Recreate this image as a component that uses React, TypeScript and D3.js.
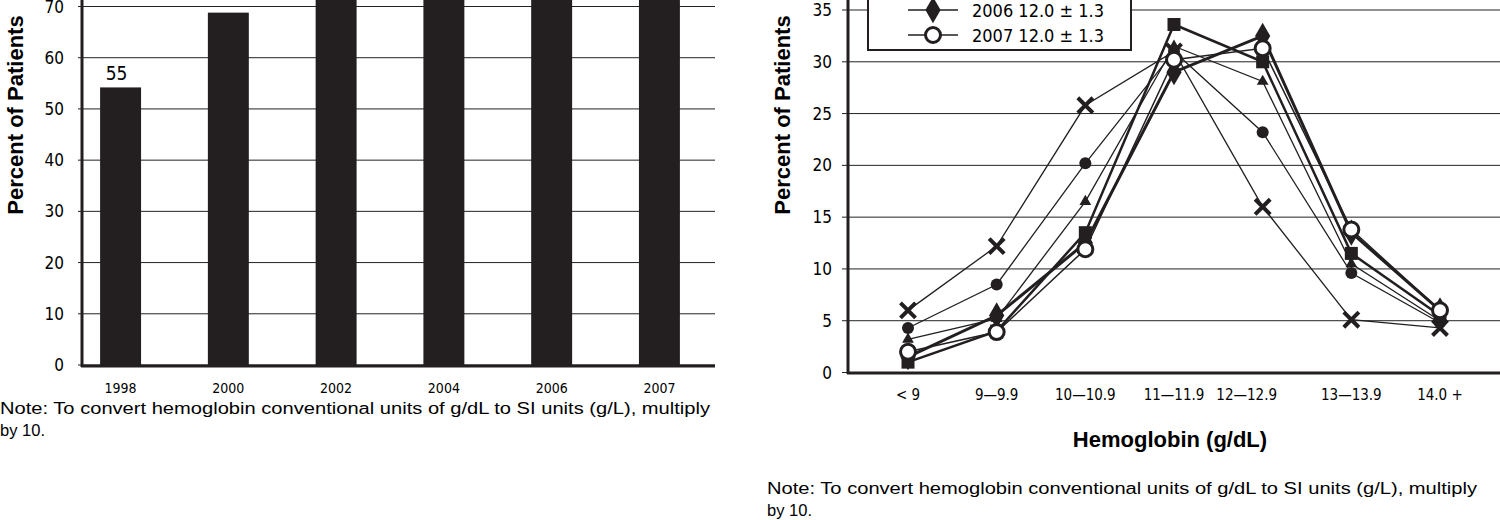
import React, { useEffect, useRef } from "react";
import * as d3 from "d3";

const years = ["1998", "2000", "2002", "2004", "2006", "2007"];
const barValues = [54.2, 68.8, 80, 84, 87, 89];
const barLabels = ["55", "", "", "", "", ""];
const barTicks = [0, 10, 20, 30, 40, 50, 60, 70];

const hbCats = ["< 9", "9\u20149.9", "10\u201410.9", "11\u201411.9", "12\u201412.9", "13\u201413.9", "14.0 +"];
const lineTicks = [0, 5, 10, 15, 20, 25, 30, 35];
const s1998 = [6, 12.2, 25.8, 31, 16, 5.1, 4.3];
const s2000 = [4.3, 8.5, 20.2, 31, 23.2, 9.6, 4.8];
const s2002 = [3.2, 5.2, 16.5, 31.5, 28.1, 10.5, 5];
const s2004 = [1, 4, 13.5, 33.6, 30, 11.5, 5.5];
const s2006 = [1.5, 5.5, 12.5, 29, 32.5, 13.5, 6];
const s2007 = [2, 3.9, 11.9, 30.2, 31.3, 13.8, 6];
const legendRows = [
  { label: "2006  12.0 \u00b1 1.3", marker: "diamond" },
  { label: "2007  12.0 \u00b1 1.3", marker: "open" },
];
const noteLine1 = "Note:  To convert hemoglobin conventional units of g/dL to SI units (g/L), multiply";
const noteLine2 = "by 10.";

const narrow = "'Liberation Sans Narrow', 'DejaVu Sans Condensed', Arial, sans-serif";
const sans = "'Liberation Sans', Arial, sans-serif";

const App: React.FC = () => {
  const ref = useRef<SVGSVGElement | null>(null);

  useEffect(() => {
    if (!ref.current) return;
    const svg = d3.select(ref.current);
    svg.selectAll("*").remove();

    // ---- bar chart
    const bx = d3.scaleBand().domain(years).range([57, 723]).paddingInner(0.62).paddingOuter(0.4);
    const by = d3.scaleLinear().domain([0, 70]).range([365, 6.5]);
    const g1 = svg.append("g");
    barTicks.forEach((t) => {
      g1.append("line").attr("x1", 78).attr("x2", 715).attr("y1", by(t)).attr("y2", by(t))
        .attr("stroke", "#222").attr("stroke-width", 1);
      g1.append("text").attr("x", 64).attr("y", by(t) + 6).attr("text-anchor", "end")
        .attr("font-family", narrow).attr("font-size", 17).text(t);
    });
    g1.selectAll("rect").data(years).join("rect")
      .attr("x", (d) => bx(d)!).attr("width", bx.bandwidth())
      .attr("y", (d, i) => by(barValues[i])).attr("height", (d, i) => by(0) - by(barValues[i]))
      .attr("fill", "#231f20");
    years.forEach((y, i) => {
      g1.append("text").attr("x", bx(y)! + bx.bandwidth() / 2).attr("y", 393).attr("text-anchor", "middle")
        .attr("font-family", narrow).attr("font-size", 14).text(y);
      if (barLabels[i]) g1.append("text").attr("x", bx(y)! + bx.bandwidth() / 2 - 4).attr("y", by(barValues[i]) - 7)
        .attr("text-anchor", "middle").attr("font-family", narrow).attr("font-size", 19).text(barLabels[i]);
    });
    g1.append("line").attr("x1", 82).attr("x2", 82).attr("y1", 0).attr("y2", 367).attr("stroke", "#231f20").attr("stroke-width", 3);
    g1.append("line").attr("x1", 81).attr("x2", 715).attr("y1", 366).attr("y2", 366).attr("stroke", "#231f20").attr("stroke-width", 3);
    g1.append("text").attr("transform", "translate(23,115) rotate(-90)").attr("text-anchor", "middle")
      .attr("font-family", sans).attr("font-weight", "bold").attr("font-size", 22).text("Percent of Patients");
    g1.append("text").attr("x", 0).attr("y", 414).attr("font-family", sans).attr("font-size", 16)
      .attr("textLength", 710).attr("lengthAdjust", "spacingAndGlyphs").text(noteLine1);
    g1.append("text").attr("x", 0).attr("y", 436).attr("font-family", sans).attr("font-size", 16)
      .attr("textLength", 45).attr("lengthAdjust", "spacingAndGlyphs").text(noteLine2);

    // ---- line chart
    const lx = d3.scalePoint().domain(hbCats).range([908, 1440]);
    const ly = d3.scaleLinear().domain([0, 35]).range([372.5, 10]);
    const g2 = svg.append("g");
    lineTicks.forEach((t) => {
      g2.append("line").attr("x1", 842).attr("x2", 1500).attr("y1", ly(t)).attr("y2", ly(t))
        .attr("stroke", "#222").attr("stroke-width", 1);
      g2.append("text").attr("x", 832).attr("y", ly(t) + 6).attr("text-anchor", "end")
        .attr("font-family", narrow).attr("font-size", 17).text(t);
    });
    hbCats.forEach((c, i) => {
      g2.append("text").attr("x", lx(c)! + (i === 4 ? -16 : 0)).attr("y", 400).attr("text-anchor", "middle")
        .attr("font-family", narrow).attr("font-size", 15).text(c);
    });
    const line = d3.line<number>().x((d, i) => lx(hbCats[i])!).y((d) => ly(d));
    const series = [
      { v: s1998, m: "cross", w: 1.3 },
      { v: s2000, m: "dot", w: 1.3 },
      { v: s2002, m: "tri", w: 1.3 },
      { v: s2004, m: "square", w: 2.5 },
      { v: s2006, m: "diamond", w: 3 },
      { v: s2007, m: "open", w: 1.5 },
    ];
    const marker = (g: any, m: string, x: number, y: number) => {
      const c = "#231f20";
      if (m === "cross") g.append("path").attr("d", d3.symbol(d3.symbolX, 150)()).attr("transform", `translate(${x},${y})`).attr("stroke", c).attr("stroke-width", 4);
      else if (m === "dot") g.append("circle").attr("cx", x).attr("cy", y).attr("r", 6).attr("fill", c);
      else if (m === "tri") g.append("path").attr("d", d3.symbol(d3.symbolTriangle, 60)()).attr("transform", `translate(${x},${y})`).attr("fill", c);
      else if (m === "square") g.append("rect").attr("x", x - 6.5).attr("y", y - 6.5).attr("width", 13).attr("height", 13).attr("fill", c);
      else if (m === "diamond") g.append("path").attr("d", d3.symbol(d3.symbolDiamond, 200)()).attr("transform", `translate(${x},${y})`).attr("fill", c);
      else g.append("circle").attr("cx", x).attr("cy", y).attr("r", 7.5).attr("fill", "#fff").attr("stroke", c).attr("stroke-width", 3);
    };
    series.forEach((s) => {
      g2.append("path").attr("d", line(s.v)).attr("fill", "none").attr("stroke", "#231f20").attr("stroke-width", s.w);
    });
    series.forEach((s) => s.v.forEach((v, i) => marker(g2, s.m, lx(hbCats[i])!, ly(v))));
    g2.append("line").attr("x1", 848).attr("x2", 848).attr("y1", 0).attr("y2", 374).attr("stroke", "#231f20").attr("stroke-width", 3);
    g2.append("line").attr("x1", 847).attr("x2", 1500).attr("y1", 373).attr("y2", 373).attr("stroke", "#231f20").attr("stroke-width", 3);

    // legend
    g2.append("rect").attr("x", 868).attr("y", -40).attr("width", 263).attr("height", 90)
      .attr("fill", "#fff").attr("stroke", "#231f20").attr("stroke-width", 2);
    legendRows.forEach((r, i) => {
      const y = 10 + i * 25;
      g2.append("line").attr("x1", 908).attr("x2", 958).attr("y1", y).attr("y2", y).attr("stroke", "#231f20").attr("stroke-width", 1.5);
      marker(g2, r.marker, 933, y);
      g2.append("text").attr("x", 972).attr("y", y + 7).attr("font-family", narrow).attr("font-size", 18).text(r.label);
    });
    g2.append("text").attr("transform", "translate(790,115) rotate(-90)").attr("text-anchor", "middle")
      .attr("font-family", sans).attr("font-weight", "bold").attr("font-size", 22).text("Percent of Patients");
    g2.append("text").attr("x", 1170).attr("y", 447).attr("text-anchor", "middle").attr("font-family", sans)
      .attr("font-weight", "bold").attr("font-size", 22).text("Hemoglobin (g/dL)");
    g2.append("text").attr("x", 767).attr("y", 494).attr("font-family", sans).attr("font-size", 16)
      .attr("textLength", 710).attr("lengthAdjust", "spacingAndGlyphs").text(noteLine1);
    g2.append("text").attr("x", 767).attr("y", 516).attr("font-family", sans).attr("font-size", 16)
      .attr("textLength", 45).attr("lengthAdjust", "spacingAndGlyphs").text(noteLine2);
  }, []);

  return (
    <svg ref={ref} width={1500} height={520}
      style={{ position: "absolute", left: 0, top: 0, background: "#fff", overflow: "hidden" }} />
  );
};

export default App;
